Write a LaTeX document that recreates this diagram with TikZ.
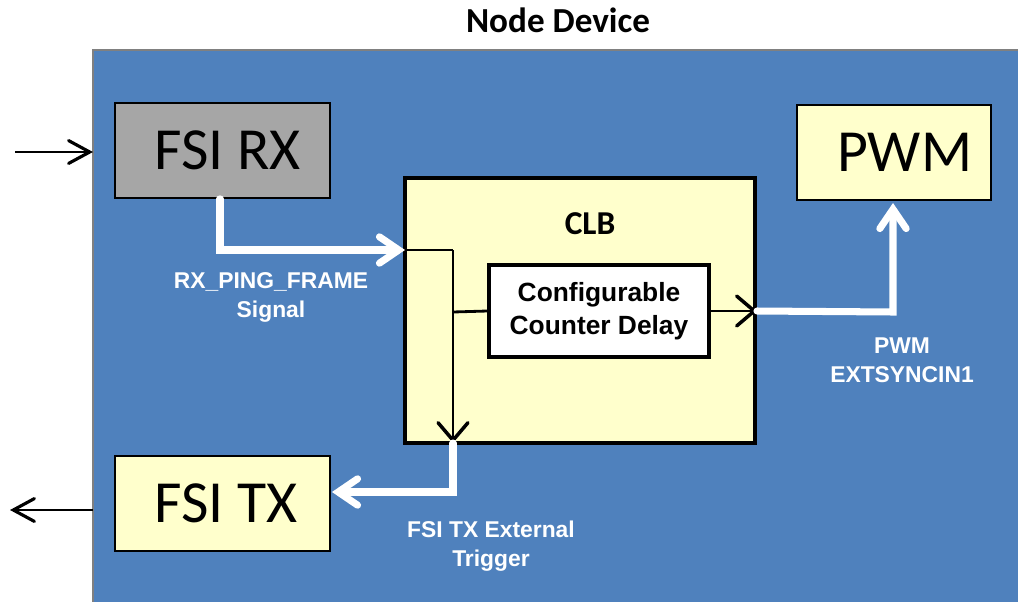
\documentclass[tikz,border=0pt]{standalone}
\usepackage{fontspec}
\setmainfont{Carlito}
\newfontfamily\arialfont{Liberation Sans}
\usetikzlibrary{arrows.meta,positioning}

\definecolor{boardblue}{HTML}{4F81BD}
\definecolor{boxyellow}{HTML}{FFFFCC}
\definecolor{boxgray}{HTML}{A6A6A6}

\begin{document}
\begin{tikzpicture}[x=0.02cm, y=-0.02cm,
  block/.style={draw=black, line width=1pt, minimum height=1.9cm, inner sep=0pt,
    font=\fontsize{34}{34}\selectfont},
  sig/.style={-{Straight Barb[length=10pt,width=17pt,line width=2pt,line cap=round]}, line width=1.6pt},
  extsig/.style={-{Straight Barb[length=12pt,width=13pt,line width=1.8pt,line cap=round]}, line width=1.5pt},
  wsig/.style={white, line width=4pt, line cap=round,
    -{Straight Barb[length=11pt,width=15pt,line cap=round]}},
  wlabel/.style={white, align=center, font=\arialfont\bfseries\fontsize{13}{16.5}\selectfont}]

\useasboundingbox (0,0) rectangle (1018,602);
\fill[boardblue, draw=gray, line width=0.6pt] (93,50) rectangle (1030,610);

\node[font=\bfseries\fontsize{20}{20}\selectfont] (title) at (558,20) {Node Device};

% blocks
\node[block, fill=boxgray, minimum width=4.3cm] (rx) at (222.5,150.5) {\hspace{6pt}FSI RX};
\node[block, fill=boxyellow, minimum width=4.3cm] (tx) at (222.5,503.5) {\hspace{4pt}FSI TX};
\node[block, fill=boxyellow, minimum width=3.88cm] (pwm) at (894,152.5) {\hspace{12pt}PWM};

\node[draw=black, fill=boxyellow, line width=2.3pt, minimum width=7cm, minimum height=5.3cm] (clb) at (580,310.5) {};
\node[font=\bfseries\fontsize{19}{19}\selectfont] (clbname) at (590,224) {CLB};
\node[draw=black, fill=white, line width=1.8pt, minimum width=4.4cm, minimum height=1.84cm, align=center,
  font=\arialfont\bfseries\fontsize{15}{18.5}\selectfont] (delay) at (599,311) {Configurable\\Counter Delay};

% bend points
\coordinate (rxdown) at (220,250);
\coordinate (clbin) at (405,250);
\coordinate (split) at (453,250);
\coordinate (tap) at (453,312);
\coordinate (clbout) at (453,443);
\coordinate (txturn) at (453,492);
\coordinate (txin) at (332,492);
\coordinate (pwmturn) at (893,312);
\coordinate (pwmin) at (893,203);
\coordinate (inleft) at (15,152);
\coordinate (boardin) at (93,152);
\coordinate (boardout) at (93,510);
\coordinate (outleft) at (10,510);

% inside CLB
\draw[line width=1.6pt] (clbin) -- (split);
\draw[sig] (split) -- (clbout);
\draw[line width=1.6pt] (tap) -- (delay.west);
\draw[sig] (delay.east) -- (clb.east |- delay.east);

% white signals
\draw[wsig] (rx.south -| rxdown) -- (rxdown) -- (clbin);
\draw[wsig] (clb.east |- delay.east) -- (pwmturn) -- (pwmin);
\draw[wsig] (clbout) -- (txturn) -- (txin);

% outside
\draw[extsig] (inleft) -- (boardin);
\draw[extsig] (boardout) -- (outleft);

\node[wlabel] (rxlabel) at (271,297) {RX\_PING\_FRAME\\Signal};
\node[wlabel] (pwmlabel) at (902,360) {PWM\\EXTSYNCIN1};
\node[wlabel] (txlabel) at (491,546) {FSI TX External\\Trigger};
\end{tikzpicture}
\end{document}
